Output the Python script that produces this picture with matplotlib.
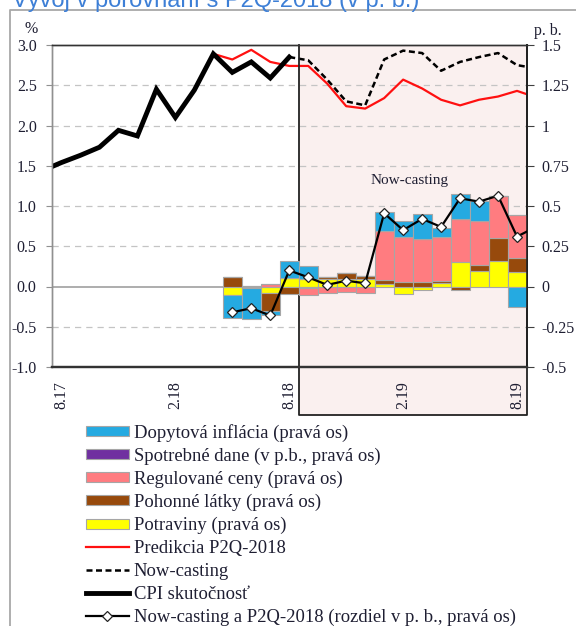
import numpy as np
import matplotlib
matplotlib.use("Agg")
import matplotlib.pyplot as plt
from matplotlib.patches import Rectangle, Patch
from matplotlib.lines import Line2D
import matplotlib.transforms as mtransforms

plt.rcParams['font.family'] = ['Liberation Serif', 'DejaVu Serif']

# ---------------- data ----------------
months = ["7.17", "8.17", "9.17", "10.17", "11.17", "12.17", "1.18", "2.18", "3.18",
          "4.18", "5.18", "6.18", "7.18", "8.18", "9.18", "10.18", "11.18", "12.18",
          "1.19", "2.19", "3.19", "4.19", "5.19", "6.19", "7.19", "8.19", "9.19"]
tick_labels = ["8.17", "2.18", "8.18", "2.19", "8.19"]

# CPI actual (left axis, %), 7.17 .. 8.18
cpi_months = months[0:14]
cpi_actual = [1.44, 1.54, 1.63, 1.73, 1.94, 1.87, 2.45, 2.10, 2.44, 2.89, 2.66, 2.79, 2.59, 2.85]

# Prediction P2Q-2018 (left axis, %), 4.18 .. 9.19
pred_months = months[9:27]
pred_p2q = [2.89, 2.82, 2.94, 2.79, 2.74, 2.74, 2.52, 2.24, 2.21, 2.34, 2.57, 2.46,
            2.32, 2.25, 2.32, 2.36, 2.43, 2.35]

# Now-casting (left axis, %), 8.18 .. 9.19
now_months = months[13:27]
nowcast = [2.85, 2.81, 2.57, 2.30, 2.25, 2.82, 2.93, 2.90, 2.68, 2.79, 2.85, 2.90, 2.75, 2.71]

# Difference now-casting vs P2Q-2018 (right axis, p.b.), 5.18 .. 9.19
diff_months = months[10:27]
diff_pb = [-0.16, -0.135, -0.18, 0.10, 0.057, 0.01, 0.036, 0.02, 0.455, 0.35, 0.42,
           0.37, 0.548, 0.527, 0.564, 0.31, 0.37]

# Contributions (right axis, p.b.), 5.18 .. 8.19
bar_months = months[10:26]
potraviny = [-0.055, -0.01, -0.04, 0.05, 0.045, 0.045, 0.045, 0.045, 0.015, -0.045,
             -0.02, 0.02, 0.15, 0.095, 0.16, 0.09]
pohonne = [0.06, 0.0, -0.11, -0.045, -0.01, 0.015, 0.04, 0.02, 0.025, 0.03, 0.025,
           0.015, -0.02, 0.04, 0.14, 0.09]
regulovane = [0.0, 0.005, 0.015, 0.0, -0.045, -0.04, -0.035, -0.043, 0.305, 0.275,
              0.27, 0.27, 0.27, 0.27, 0.26, 0.265]
spotrebne = [0.0] * 16
dopytova = [-0.14, -0.19, -0.03, 0.107, 0.08, 0.0, 0.0, 0.0, 0.115, 0.10, 0.155, 0.06,
            0.155, 0.125, 0.0, -0.13]

# ---------------- styling ----------------
C_BLUE = '#25AAE1'
C_PURPLE = '#7030A0'
C_SALMON = '#FF7C80'
C_BROWN = '#974A0C'
C_YELLOW = '#FFFF00'
EDGE = '#A6A6A6'
TXT = '#1E1E32'

W, H = 576, 626
fig = plt.figure(figsize=(W / 100, H / 100), dpi=100)
L, R, T, B = 52, 526.5, 45, 367
ax = fig.add_axes([L / W, 1 - B / H, (R - L) / W, (B - T) / H])
ax2 = ax.twinx()

pos = {m: i for i, m in enumerate(months)}
def xs(ms):
    return np.array([pos[m] for m in ms])

ax.set_xlim(0.5, 25.5)
ax.set_ylim(-1.0, 3.0)
ax2.set_ylim(-0.5, 1.5)

# shaded now-casting region, extending below the axis
trans = mtransforms.blended_transform_factory(ax.transData, ax.transAxes)
ybot = -(415 - B) / (B - T)
x0 = pos["8.18"] + 0.5
x1 = pos["8.19"] + 0.5
ax.add_patch(Rectangle((x0, ybot), x1 - x0, 1 - ybot, transform=trans,
                       facecolor='#FAF0EF', edgecolor='none', clip_on=False, zorder=0.1))
ax.plot([x0, x0, x1, x1], [1, ybot, ybot, 1], transform=trans, color='#222222',
        lw=1.3, clip_on=False, zorder=4)

# gridlines
for g in [2.5, 2.0, 1.5, 1.0, 0.5, -0.5]:
    ax.axhline(g, color='#C4C4C4', lw=0.9, ls=(0, (5, 4)), zorder=0.5)
ax.axhline(0, color='#A0A0A0', lw=1.2, zorder=0.6)

# left-axis lines
ax.plot(xs(cpi_months), cpi_actual, color='black', lw=3.5, zorder=3, solid_joinstyle='miter')
ax.plot(xs(pred_months), pred_p2q, color='#FF1010', lw=1.6, zorder=2.9)
ax.plot(xs(now_months), nowcast, color='black', lw=1.8, ls=(0, (2.4, 1.4)), zorder=2.95)

# stacked bars on right axis
bx = xs(bar_months)
pos_base = np.zeros(len(bx))
neg_base = np.zeros(len(bx))
for vals, col in [(potraviny, C_YELLOW), (pohonne, C_BROWN), (regulovane, C_SALMON),
                  (spotrebne, C_PURPLE), (dopytova, C_BLUE)]:
    v = np.array(vals, dtype=float)
    base = np.where(v >= 0, pos_base, neg_base)
    ax2.bar(bx, v, width=1.0, bottom=base, color=col, edgecolor=EDGE, linewidth=0.8, zorder=2)
    pos_base = pos_base + np.where(v > 0, v, 0)
    neg_base = neg_base + np.where(v < 0, v, 0)

ax2.plot(xs(diff_months), diff_pb, color='black', lw=1.6, marker='D', ms=5,
         mfc='white', mec='#222222', mew=0.9, zorder=3)

# ticks & spines
ax.set_yticks(np.arange(-1.0, 3.01, 0.5))
ax.set_yticklabels([f"{v:.1f}" for v in np.arange(-1.0, 3.01, 0.5)])
ax2.set_yticks(np.arange(-0.5, 1.51, 0.25))
ax2.set_yticklabels(["-0.5", "-0.25", "0", "0.25", "0.5", "0.75", "1", "1.25", "1.5"])
ax.set_xticks([pos[m] for m in tick_labels])
ax.set_xticklabels(tick_labels, rotation=90)

ax.tick_params(axis='y', length=4, width=0.8, color='#909090', pad=7, labelsize=11.5,
               labelcolor=TXT)
ax2.tick_params(axis='y', length=5, width=0.8, color='#404040', pad=6, labelsize=11.5,
                labelcolor=TXT)
ax.tick_params(axis='x', length=0, pad=10, labelsize=11.5, labelcolor=TXT)

for a in (ax, ax2):
    a.spines['left'].set_color('#909090')
    a.spines['left'].set_linewidth(1.0)
    a.spines['top'].set_color('#333333')
    a.spines['top'].set_linewidth(1.0)
    a.spines['right'].set_color('#222222')
    a.spines['right'].set_linewidth(1.2)
    a.spines['bottom'].set_color('#333333')
    a.spines['bottom'].set_linewidth(1.6)
ax2.patch.set_visible(False)

ax.text(pos["2.19"] + 0.35, 1.32, "Now-casting", ha='center', va='center',
        fontsize=11, color=TXT, zorder=5)

fig.text(31 / W, 1 - 29 / H, "%", ha='center', va='center', fontsize=11.5, color=TXT)
fig.text(548 / W, 1 - 31 / H, "p. b.", ha='center', va='center', fontsize=11.5, color=TXT)

# title (partly cut off at top, as in the source) and outer frame
fig.text(12 / W, 1 - 7 / H, "Vývoj v porovnaní s P2Q-2018 (v p. b.)", ha='left',
         va='baseline', fontsize=17, color='#3D7FD6', family='Liberation Sans')
fig.add_artist(Line2D([9.5 / W, 9.5 / W, 1.0], [0.0, 1 - 10 / H, 1 - 10 / H],
                      transform=fig.transFigure, color='#A8A8A8', lw=1.3))

# legend
handles = [
    Patch(facecolor=C_BLUE, edgecolor=EDGE, lw=0.8),
    Patch(facecolor=C_PURPLE, edgecolor=EDGE, lw=0.8),
    Patch(facecolor=C_SALMON, edgecolor=EDGE, lw=0.8),
    Patch(facecolor=C_BROWN, edgecolor=EDGE, lw=0.8),
    Patch(facecolor=C_YELLOW, edgecolor=EDGE, lw=0.8),
    Line2D([], [], color='#FF1010', lw=1.6),
    Line2D([], [], color='black', lw=1.8, ls=(0, (2.4, 1.4))),
    Line2D([], [], color='black', lw=3.5),
    Line2D([], [], color='black', lw=1.6, marker='D', ms=5, mfc='white', mec='#222222', mew=0.9),
]
labels = ["Dopytová inflácia (pravá os)", "Spotrebné dane (v p.b., pravá os)",
          "Regulované ceny (pravá os)", "Pohonné látky (pravá os)", "Potraviny (pravá os)",
          "Predikcia P2Q-2018", "Now-casting", "CPI skutočnosť",
          "Now-casting a P2Q-2018 (rozdiel v p. b., pravá os)"]
leg = fig.legend(handles, labels, loc='upper left', bbox_to_anchor=(86 / W, 1 - 424 / H),
                 frameon=False, fontsize=13.4, handlelength=2.3, handleheight=0.45,
                 handletextpad=0.27, labelspacing=0.31, borderpad=0, borderaxespad=0)
for t in leg.get_texts():
    t.set_color(TXT)

fig.savefig("out.png", dpi=100)
